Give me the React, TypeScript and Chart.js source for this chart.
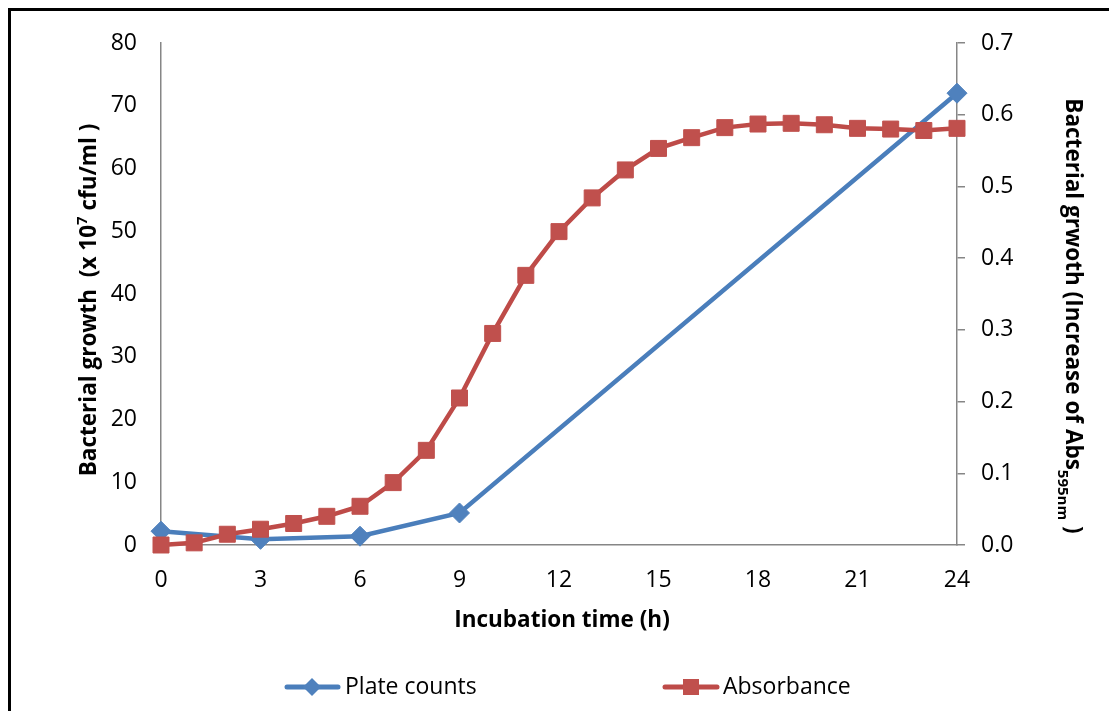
import React, { useEffect, useRef } from "react";
import { Chart, registerables } from "chart.js";

Chart.register(...registerables);

// ---- data ----
const absHours = [0, 1, 2, 3, 4, 5, 6, 7, 8, 9, 10, 11, 12, 13, 14, 15, 16, 17, 18, 19, 20, 21, 22, 23, 24];
const absorbance = [0.0, 0.003, 0.015, 0.022, 0.03, 0.04, 0.054, 0.087, 0.132, 0.205, 0.295, 0.376, 0.437, 0.484, 0.523, 0.553, 0.568, 0.582, 0.587, 0.588, 0.586, 0.581, 0.58, 0.578, 0.581];
const plateHours = [0, 3, 6, 9, 24];
const plateCounts = [2.2, 0.9, 1.4, 5.1, 72];
const xTickValues = [0, 3, 6, 9, 12, 15, 18, 21, 24];
const leftTickValues = [0, 10, 20, 30, 40, 50, 60, 70, 80];
const rightTickValues = [0, 0.1, 0.2, 0.3, 0.4, 0.5, 0.6, 0.7];

const seriesNames = ["Plate counts", "Absorbance"];
const xTitle = "Incubation time (h)";
const leftTitleParts = ["Bacterial growth  (x 10", "7", " cfu/ml )"];
const rightTitleParts = ["Bacterial grwoth (Increase of Abs", "595nm", " )"];

const FONT = "'Open Sans', 'DejaVu Sans', sans-serif";
const BLUE_LINE = "#4A7EBB";
const BLUE_MARK = "#4F81BD";
const RED_LINE = "#BE4B48";
const RED_MARK = "#C0504D";
const AXIS = "#868686";

const decorPlugin = {
  id: "decor",
  afterDraw(chart: any) {
    const ctx: CanvasRenderingContext2D = chart.ctx;
    const area = chart.chartArea;
    ctx.save();
    // outer frame (top & left visible)
    ctx.fillStyle = "#000";
    ctx.fillRect(8, 8, 1101, 3);
    ctx.fillRect(8, 8, 3, 703);

    const bold = (s: number) => `bold ${s}px ${FONT}`;
    const TS = 22.5;
    const SS = 15;

    // x title
    ctx.fillStyle = "#000";
    ctx.font = bold(TS);
    ctx.textAlign = "center";
    ctx.textBaseline = "middle";
    ctx.fillText(xTitle, (area.left + area.right) / 2 + 3, 621);

    // left title (rotated ccw), with superscript
    {
      const [a, sup, b] = leftTitleParts;
      ctx.font = bold(TS);
      const wa = ctx.measureText(a).width;
      const wb = ctx.measureText(b).width;
      ctx.font = bold(SS);
      const ws = ctx.measureText(sup).width;
      const total = wa + ws + wb;
      ctx.save();
      ctx.translate(90, 300);
      ctx.rotate(-Math.PI / 2);
      ctx.textAlign = "left";
      ctx.textBaseline = "middle";
      let x = -total / 2;
      ctx.font = bold(TS);
      ctx.fillText(a, x, 0);
      x += wa;
      ctx.font = bold(SS);
      ctx.fillText(sup, x, -7);
      x += ws;
      ctx.font = bold(TS);
      ctx.fillText(b, x, 0);
      ctx.restore();
    }

    // right title (rotated cw), with subscript
    {
      const [a, sub, b] = rightTitleParts;
      ctx.font = bold(TS);
      const wa = ctx.measureText(a).width;
      const wb = ctx.measureText(b).width;
      ctx.font = bold(SS);
      const ws = ctx.measureText(sub).width;
      const total = wa + ws + wb;
      ctx.save();
      ctx.translate(1072, 316);
      ctx.rotate(Math.PI / 2);
      ctx.textAlign = "left";
      ctx.textBaseline = "middle";
      let x = -total / 2;
      ctx.font = bold(TS);
      ctx.fillText(a, x, 0);
      x += wa;
      ctx.font = bold(SS);
      ctx.fillText(sub, x, 10);
      x += ws;
      ctx.font = bold(TS);
      ctx.fillText(b, x, 0);
      ctx.restore();
    }

    // legend
    const ly = 687;
    const drawLegendLine = (x1: number, x2: number, color: string) => {
      ctx.strokeStyle = color;
      ctx.lineWidth = 5;
      ctx.lineCap = "round";
      ctx.beginPath();
      ctx.moveTo(x1, ly);
      ctx.lineTo(x2, ly);
      ctx.stroke();
    };
    drawLegendLine(287, 338, BLUE_LINE);
    ctx.fillStyle = BLUE_MARK;
    ctx.beginPath();
    ctx.moveTo(312 - 9, ly);
    ctx.lineTo(312, ly - 9);
    ctx.lineTo(312 + 9, ly);
    ctx.lineTo(312, ly + 9);
    ctx.closePath();
    ctx.fill();
    drawLegendLine(665, 717, RED_LINE);
    ctx.fillStyle = RED_MARK;
    ctx.fillRect(691 - 8, ly - 8, 16, 16);

    ctx.fillStyle = "#000";
    ctx.font = `23px ${FONT}`;
    ctx.textAlign = "left";
    ctx.textBaseline = "middle";
    ctx.fillText(seriesNames[0], 345, ly);
    ctx.fillText(seriesNames[1], 723, ly);
    ctx.restore();
  },
};

export default function App() {
  const ref = useRef<HTMLCanvasElement | null>(null);

  useEffect(() => {
    if (!ref.current) return;
    const tickFont = { family: FONT, size: 23 };
    const chart = new Chart(ref.current, {
      type: "line",
      data: {
        datasets: [
          {
            label: seriesNames[0],
            data: plateHours.map((h, i) => ({ x: h, y: plateCounts[i] })),
            yAxisID: "y",
            borderColor: BLUE_LINE,
            backgroundColor: BLUE_MARK,
            pointBackgroundColor: BLUE_MARK,
            pointBorderColor: BLUE_MARK,
            borderWidth: 4.5,
            pointStyle: "rectRot",
            pointRadius: 10,
            pointBorderWidth: 1,
            tension: 0,
            clip: false,
            order: 2,
          },
          {
            label: seriesNames[1],
            data: absHours.map((h, i) => ({ x: h, y: absorbance[i] })),
            yAxisID: "y1",
            borderColor: RED_LINE,
            backgroundColor: RED_MARK,
            pointBackgroundColor: RED_MARK,
            pointBorderColor: RED_MARK,
            borderWidth: 4.5,
            pointStyle: "rect",
            pointRadius: 11.3,
            pointBorderWidth: 1,
            tension: 0,
            clip: false,
            order: 1,
          },
        ],
      },
      options: {
        responsive: false,
        animation: false,
        devicePixelRatio: 1,
        layout: { padding: { top: 43, left: 0, right: 0, bottom: 0 } },
        plugins: {
          legend: { display: false },
          tooltip: { enabled: false },
        },
        scales: {
          x: {
            type: "linear",
            min: 0,
            max: 24,
            afterBuildTicks: (s: any) => {
              s.ticks = xTickValues.map((v) => ({ value: v }));
            },
            afterFit: (s: any) => {
              s.height = 166;
            },
            ticks: { font: tickFont, color: "#000", padding: 22, maxRotation: 0, autoSkip: false },
            grid: { display: false, drawTicks: false },
            border: { display: true, color: AXIS, width: 1.5 },
          },
          y: {
            type: "linear",
            position: "left",
            min: 0,
            max: 80,
            afterBuildTicks: (s: any) => {
              s.ticks = leftTickValues.map((v) => ({ value: v }));
            },
            afterFit: (s: any) => {
              s.width = 161;
            },
            ticks: { font: tickFont, color: "#000", padding: 24 },
            grid: { display: false, drawTicks: false },
            border: { display: true, color: AXIS, width: 1.5 },
          },
          y1: {
            type: "linear",
            position: "right",
            min: 0,
            max: 0.7,
            afterBuildTicks: (s: any) => {
              s.ticks = rightTickValues.map((v) => ({ value: v }));
            },
            afterFit: (s: any) => {
              s.width = 152;
            },
            ticks: {
              font: tickFont,
              color: "#000",
              padding: 16,
              callback: (v: any) => Number(v).toFixed(1),
            },
            grid: { drawOnChartArea: false, drawTicks: true, tickLength: 8, color: AXIS, lineWidth: 1.5 },
            border: { display: true, color: AXIS, width: 1.5 },
          },
        },
      },
      plugins: [decorPlugin],
    } as any);
    return () => chart.destroy();
  }, []);

  return (
    <canvas
      ref={ref}
      width={1109}
      height={711}
      style={{ position: "fixed", left: 0, top: 0, width: 1109, height: 711, display: "block" }}
    />
  );
}
